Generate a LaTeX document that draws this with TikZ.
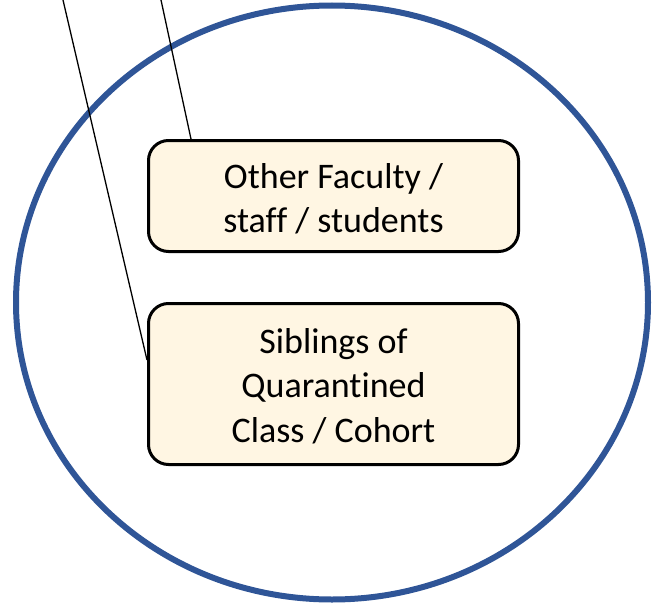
\documentclass[tikz,border=0pt]{standalone}
\usepackage{fontspec}
\setmainfont{Carlito}[Ligatures=CommonOff]
\newcommand{\boxlines}[2]{\begin{tabular}{@{}c@{}}\rule{0pt}{#1}#2\end{tabular}}
\begin{document}
\begin{tikzpicture}[x=1pt,y=-1pt,
  box/.style={draw=black,line width=3pt,fill=cream,rounded corners=20pt,align=center,
    font=\fontsize{36}{44.4}\selectfont,inner sep=0pt}]
\definecolor{cream}{HTML}{FFF6E3}
\definecolor{ringblue}{HTML}{2F5597}
\useasboundingbox (0,0) rectangle (654,605);
\draw[ringblue,line width=6pt] (332,302.5) ellipse [x radius=316,y radius=297];
\node[box,minimum width=370pt,minimum height=111pt] (other) at (333.5,196)
  {\boxlines{42pt}{Other Faculty /\\staff / students}};
\node[box,minimum width=370pt,minimum height=161pt] (sib) at (333.5,384)
  {\boxlines{41pt}{Siblings of\\Quarantined\\Class / Cohort}};
\coordinate (t1) at (63,0);
\coordinate (t2) at (161,0);
\draw[line width=1.3pt] (t1) -- (sib.west |- 0,360);
\draw[line width=1.3pt] (t2) -- (other.north -| 191,0);
\end{tikzpicture}
\end{document}
